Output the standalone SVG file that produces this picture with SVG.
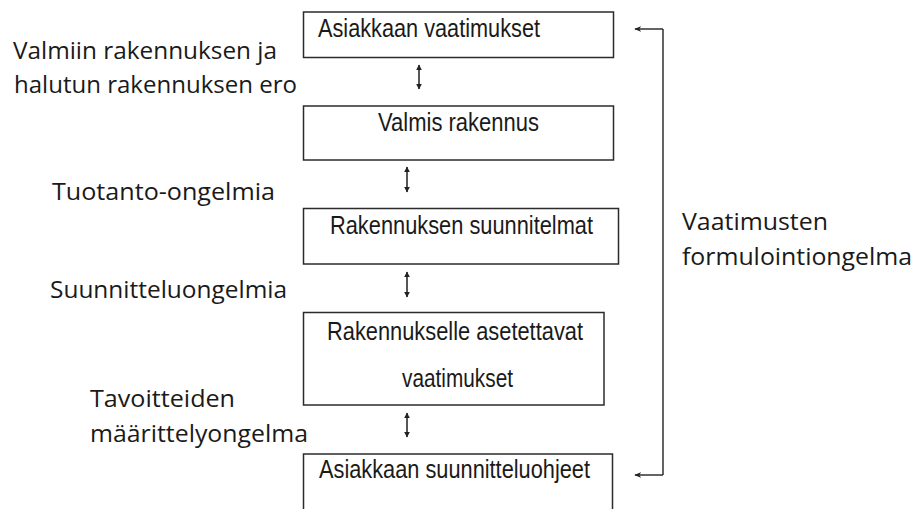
<svg xmlns="http://www.w3.org/2000/svg" width="917" height="509" viewBox="0 0 917 509">
<defs>
<style>
.box{fill:#fff;stroke:#2b2b2b;stroke-width:1.5}
.bt{font-family:"Liberation Sans",Arial,sans-serif;font-size:25px;fill:#1a1a1a}
.lt{font-family:"Open Sans","Noto Sans",sans-serif;font-size:24px;fill:#1a1a1a}
.dbl{stroke:#444;stroke-width:1.8;fill:none;marker-start:url(#hs);marker-end:url(#he)}
.br{stroke:#222;stroke-width:1.4;fill:none}
.ba{stroke:#222;stroke-width:1.4;fill:none;marker-end:url(#ah)}
</style>
<marker id="he" viewBox="0 0 10 10" refX="9" refY="5" markerWidth="6" markerHeight="7" orient="auto" markerUnits="userSpaceOnUse"><path d="M0,0 L10,5 L0,10 Z" fill="#222"/></marker>
<marker id="hs" viewBox="0 0 10 10" refX="1" refY="5" markerWidth="6" markerHeight="7" orient="auto" markerUnits="userSpaceOnUse"><path d="M10,0 L0,5 L10,10 Z" fill="#222"/></marker>
<marker id="ah" viewBox="0 0 10 10" refX="9" refY="5" markerWidth="7" markerHeight="7" orient="auto" markerUnits="userSpaceOnUse"><path d="M0,1 L10,5 L0,9 L3,5 Z" fill="#222"/></marker>
</defs>
<rect width="917" height="509" fill="#fff"/>

<g id="n1"><rect class="box" x="303.5" y="12" width="310" height="45.5"/><text class="bt" x="318" y="37" textLength="222" lengthAdjust="spacingAndGlyphs">Asiakkaan vaatimukset</text></g>
<g id="n2"><rect class="box" x="303.5" y="106" width="310" height="54"/><text class="bt" x="378" y="131" textLength="161" lengthAdjust="spacingAndGlyphs">Valmis rakennus</text></g>
<g id="n3"><rect class="box" x="303.5" y="208.5" width="315" height="55.5"/><text class="bt" x="330" y="234" textLength="263" lengthAdjust="spacingAndGlyphs">Rakennuksen suunnitelmat</text></g>
<g id="n4"><rect class="box" x="303.5" y="312.5" width="300.5" height="92.5"/><text class="bt" x="327" y="340" textLength="256" lengthAdjust="spacingAndGlyphs">Rakennukselle asetettavat</text><text class="bt" x="402" y="387" textLength="111" lengthAdjust="spacingAndGlyphs">vaatimukset</text></g>
<g id="n5"><rect class="box" x="303.5" y="454" width="309" height="70"/><text class="bt" x="319" y="478" textLength="271" lengthAdjust="spacingAndGlyphs">Asiakkaan suunnitteluohjeet</text></g>

<g id="labels">
<text class="lt" x="13" y="59" textLength="264" lengthAdjust="spacingAndGlyphs">Valmiin rakennuksen ja</text>
<text class="lt" x="14" y="93" textLength="283" lengthAdjust="spacingAndGlyphs">halutun rakennuksen ero</text>
<text class="lt" x="52" y="200" textLength="223" lengthAdjust="spacingAndGlyphs">Tuotanto-ongelmia</text>
<text class="lt" x="50" y="298" textLength="237" lengthAdjust="spacingAndGlyphs">Suunnitteluongelmia</text>
<text class="lt" x="90" y="407" textLength="145" lengthAdjust="spacingAndGlyphs">Tavoitteiden</text>
<text class="lt" x="90" y="442" textLength="218" lengthAdjust="spacingAndGlyphs">määrittelyongelma</text>
<text class="lt" x="682" y="230" textLength="146" lengthAdjust="spacingAndGlyphs">Vaatimusten</text>
<text class="lt" x="682" y="265" textLength="230" lengthAdjust="spacingAndGlyphs">formulointiongelma</text>
</g>

<g id="connectors">
<line class="dbl" x1="419" y1="65" x2="419" y2="89"/>
<line class="dbl" x1="407" y1="167" x2="407" y2="192"/>
<line class="dbl" x1="407" y1="272" x2="407" y2="297"/>
<line class="dbl" x1="407" y1="413" x2="407" y2="437"/>
<path class="br" d="M663,29 V475"/>
<line class="ba" x1="663" y1="29" x2="635" y2="29"/>
<line class="ba" x1="663" y1="475" x2="635" y2="475"/>
</g>
</svg>
